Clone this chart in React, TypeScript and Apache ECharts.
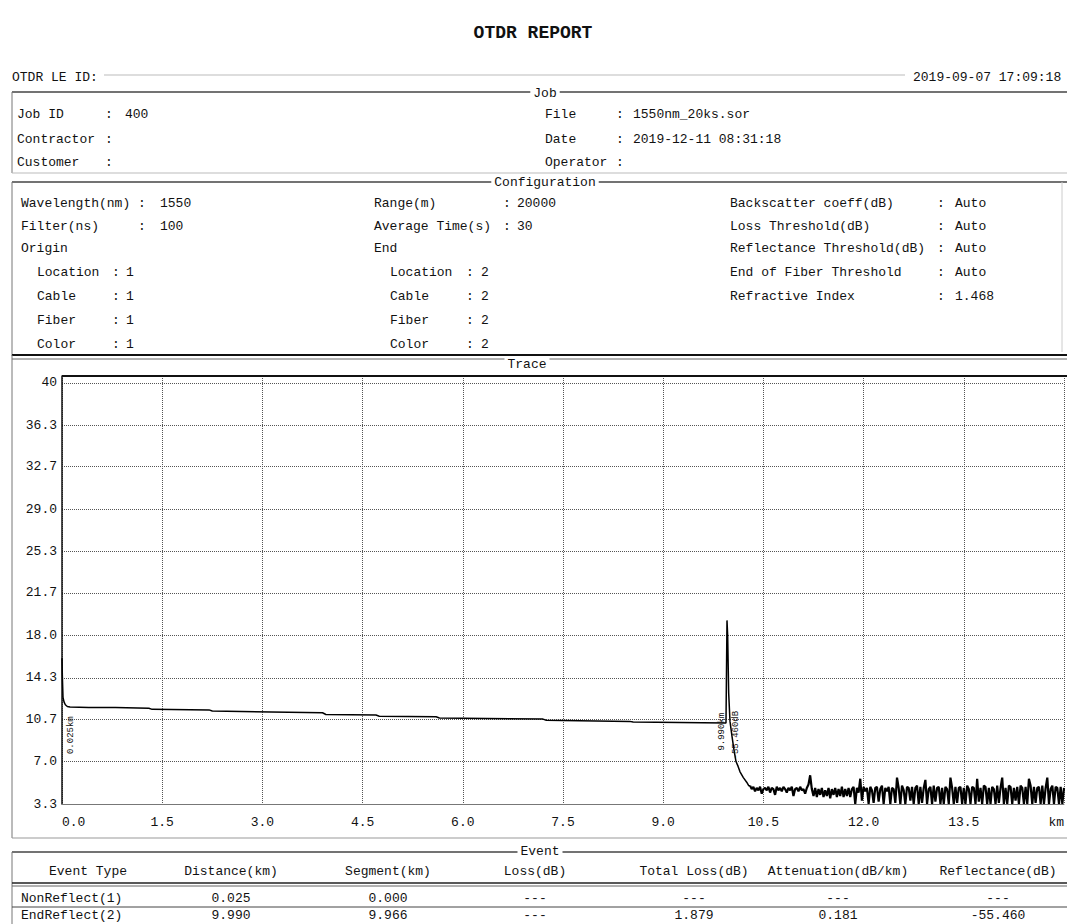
import React, { useEffect, useRef } from "react";
import * as echarts from "echarts";

// ---------- data ----------
const xTickInterval = 1.5;
const xMax = 15;
const yTickValues = [3.3, 7.0, 10.7, 14.3, 18.0, 21.7, 25.3, 29.0, 32.7, 36.3, 40];
const yMin = 3.3;
const yMax = 40.6;

// main trace (km, dB)
const traceKm = [0, 0.005, 0.015, 0.03, 0.05, 0.08, 0.12, 0.4, 0.8, 1.3, 1.35, 2.2, 2.25, 3.9, 3.95, 4.7, 4.75, 5.6, 5.65, 7.2, 7.25, 8.5, 8.55, 9.94, 9.955, 9.965, 9.98, 10.0, 10.03, 10.06, 10.09, 10.12, 10.15, 10.2, 10.25, 10.28];
const traceDb = [16.0, 14.5, 12.6, 12.2, 11.95, 11.8, 11.75, 11.7, 11.7, 11.65, 11.55, 11.5, 11.4, 11.25, 11.1, 11.05, 10.95, 10.9, 10.8, 10.7, 10.6, 10.5, 10.45, 10.35, 19.3, 18.0, 13.0, 10.5, 9.2, 8.0, 7.0, 6.6, 6.1, 5.6, 5.2, 4.9];

// noise floor after end of fiber, sampled every noiseStep km from noiseStart
const noiseStart = 10.3;
const noiseStep = 0.025;
const noiseDb = [
  4.9, 4.6, 4.8, 4.4, 4.7, 4.5, 4.8, 4.2, 4.6, 4.7,
  4.5, 4.8, 4.3, 4.7, 4.6, 4.1, 4.8, 4.5, 4.7, 4.4,
  4.8, 4.6, 4.3, 4.7, 4.5, 4.8, 4.0, 4.6, 4.7, 4.4,
  4.8, 4.5, 4.6, 4.2, 4.7, 5.0,
  5.8, 4.6, 4.0, 4.7, 3.9, 4.6, 4.1, 4.7, 3.9, 4.5,
  4.0, 4.7, 3.8, 4.6, 4.1, 4.7, 3.9, 4.6, 4.0, 4.8,
  3.9, 4.6, 4.0, 4.7, 3.9, 4.6,
  4.8, 3.3, 4.7, 4.3, 5.5, 3.6, 4.8, 4.4, 4.7, 3.3,
  4.8, 4.5, 3.4, 4.7, 4.8, 3.5, 4.6, 4.9, 3.3, 4.7,
  4.4, 4.8, 3.3, 4.7, 4.6, 3.4, 5.6, 4.7, 3.3, 4.9,
  4.5, 3.3, 4.8, 4.7, 3.6, 4.8, 3.3, 4.7, 4.9, 3.3,
  4.8, 3.4, 4.7, 5.4, 3.3, 4.6, 4.8, 3.3, 4.9, 3.5,
  4.7, 4.8, 3.3, 4.7, 3.3, 4.8, 4.6, 3.3, 5.6, 4.7,
  3.3, 4.8, 3.4, 4.7, 4.8, 3.3, 4.7, 3.3, 4.9, 4.6,
  3.3, 4.8, 4.7, 3.3, 5.5, 3.5, 4.7, 3.3, 4.9, 4.8,
  3.3, 4.7, 3.3, 4.8, 4.6, 3.3, 4.9, 3.4, 4.7, 5.6,
  3.3, 4.7, 3.3, 4.9, 4.8, 3.3, 4.7, 3.6, 4.8, 3.3,
  4.9, 4.7, 3.3, 4.8, 3.3, 5.5, 4.9, 3.3, 4.8, 3.4,
  4.7, 4.8, 3.3, 4.9, 3.3, 4.7, 5.6, 3.3, 4.6, 4.9,
  3.3, 4.8, 4.7, 3.3, 4.8, 3.3, 4.7,
];

// event markers on the trace (km, label, dB position of label centre)
const markerKm = [0.025, 9.99, 9.99];
const markerText = ["0.025km", "9.990km", "-55.460dB"];
const markerDb = [9.3, 9.6, 9.3];
const markerSide = [1, -1, 1];

// report header
const reportTitle = "OTDR REPORT";
const reportId = "OTDR LE ID:";
const reportStamp = "2019-09-07 17:09:18";
const jobLeft = [["Job ID", "400"], ["Contractor", ""], ["Customer", ""]];
const jobRight = [["File", "1550nm_20ks.sor"], ["Date", "2019-12-11 08:31:18"], ["Operator", ""]];

const cfgLeft = [["Wavelength(nm)", "1550"], ["Filter(ns)", "100"]];
const cfgMid = [["Range(m)", "20000"], ["Average Time(s)", "30"]];
const cfgOrigin = [["Location", "1"], ["Cable", "1"], ["Fiber", "1"], ["Color", "1"]];
const cfgEnd = [["Location", "2"], ["Cable", "2"], ["Fiber", "2"], ["Color", "2"]];
const cfgRight = [
  ["Backscatter coeff(dB)", "Auto"],
  ["Loss Threshold(dB)", "Auto"],
  ["Reflectance Threshold(dB)", "Auto"],
  ["End of Fiber Threshold", "Auto"],
  ["Refractive Index", "1.468"],
];

const eventHeaders = ["Event Type", "Distance(km)", "Segment(km)", "Loss(dB)", "Total Loss(dB)", "Attenuation(dB/km)", "Reflectance(dB)"];
const eventRows = [
  ["NonReflect(1)", "0.025", "0.000", "---", "---", "---", "---"],
  ["EndReflect(2)", "9.990", "9.966", "---", "1.879", "0.181", "-55.460"],
];

// ---------- layout ----------
const MONO = '"Liberation Mono", "DejaVu Sans Mono", monospace';
const F = `13px ${MONO}`;
const INK = "#111";

function txt(x: number, y: number, text: string, opts: any = {}) {
  return {
    type: "text",
    x,
    y,
    rotation: opts.rotation || 0,
    silent: true,
    style: {
      text,
      font: opts.font || F,
      fill: opts.fill || INK,
      align: opts.align || "left",
      verticalAlign: "middle",
      backgroundColor: opts.bg,
      padding: opts.bg ? [0, 3] : undefined,
    },
    z: 10,
  };
}
function hline(x1: number, x2: number, y: number, w = 1, c = "#555") {
  return { type: "line", shape: { x1, y1: y, x2, y2: y }, style: { stroke: c, lineWidth: w }, silent: true, z: 5 };
}
function vline(x: number, y1: number, y2: number, w = 1, c = "#555") {
  return { type: "line", shape: { x1: x, y1, x2: x, y2 }, style: { stroke: c, lineWidth: w }, silent: true, z: 5 };
}

function buildGraphics() {
  const g: any[] = [];
  g.push(txt(533, 33, reportTitle, { font: `bold 18px ${MONO}`, align: "center" }));
  g.push(txt(12, 77, reportId));
  g.push(hline(104, 905, 75, 1, "#bbb"));
  g.push(txt(913, 77, reportStamp));

  // Job box
  g.push(hline(12, 1067, 92, 1.5, "#444"));
  g.push(vline(12, 92, 173, 1, "#777"));
  g.push(hline(12, 1067, 173, 1, "#bbb"));
  g.push(txt(545, 93, "Job", { align: "center", bg: "#fff" }));
  const jobY = [114, 139, 162];
  jobLeft.forEach((r, i) => {
    g.push(txt(17, jobY[i], r[0]));
    g.push(txt(105, jobY[i], ":"));
    if (r[1]) g.push(txt(125, jobY[i], r[1]));
  });
  jobRight.forEach((r, i) => {
    g.push(txt(545, jobY[i], r[0]));
    g.push(txt(616, jobY[i], ":"));
    if (r[1]) g.push(txt(633, jobY[i], r[1]));
  });

  // Configuration box
  g.push(hline(12, 1067, 182, 1.5, "#444"));
  g.push(vline(12, 182, 356, 1, "#777"));
  g.push(vline(1062, 182, 352, 1, "#ccc"));
  g.push(txt(545, 182, "Configuration", { align: "center", bg: "#fff" }));
  const cfgY = [203, 226, 248, 272, 296, 320, 344];
  cfgLeft.forEach((r, i) => {
    g.push(txt(21, cfgY[i], r[0]));
    g.push(txt(138, cfgY[i], ":"));
    g.push(txt(160, cfgY[i], r[1]));
  });
  g.push(txt(21, cfgY[2], "Origin"));
  cfgOrigin.forEach((r, i) => {
    g.push(txt(37, cfgY[3 + i], r[0]));
    g.push(txt(112, cfgY[3 + i], ":"));
    g.push(txt(126, cfgY[3 + i], r[1]));
  });
  cfgMid.forEach((r, i) => {
    g.push(txt(374, cfgY[i], r[0]));
    g.push(txt(503, cfgY[i], ":"));
    g.push(txt(517, cfgY[i], r[1]));
  });
  g.push(txt(374, cfgY[2], "End"));
  cfgEnd.forEach((r, i) => {
    g.push(txt(390, cfgY[3 + i], r[0]));
    g.push(txt(466, cfgY[3 + i], ":"));
    g.push(txt(481, cfgY[3 + i], r[1]));
  });
  cfgRight.forEach((r, i) => {
    g.push(txt(730, cfgY[i], r[0]));
    g.push(txt(937, cfgY[i], ":"));
    g.push(txt(955, cfgY[i], r[1]));
  });

  // Trace box
  g.push(hline(12, 1067, 355, 2, "#111"));
  g.push(hline(12, 1067, 359, 1, "#666"));
  g.push(vline(12, 355, 838, 1, "#777"));
  g.push(hline(12, 1067, 838, 1, "#999"));
  g.push(txt(527, 364, "Trace", { align: "center", bg: "#fff" }));
  g.push(hline(62, 1067, 376, 2, "#111"));

  // Event box
  g.push(hline(12, 1067, 852, 1.5, "#444"));
  g.push(vline(12, 852, 924, 1, "#777"));
  g.push(txt(540, 851, "Event", { align: "center", bg: "#fff" }));
  const colX = [88, 231, 388, 535, 694, 838, 998];
  eventHeaders.forEach((h, i) => g.push(txt(colX[i], 871, h, { align: "center" })));
  g.push(hline(12, 1067, 883, 1.5, "#222"));
  g.push(hline(12, 1067, 886, 1, "#666"));
  const rowY = [898, 915];
  eventRows.forEach((row, r) => {
    row.forEach((c, i) => {
      if (i === 0) g.push(txt(21, rowY[r], c));
      else g.push(txt(colX[i], rowY[r], c, { align: "center" }));
    });
  });
  g.push(hline(12, 1067, 907, 1, "#444"));
  return g;
}

export default function App() {
  const ref = useRef<HTMLDivElement>(null);
  useEffect(() => {
    if (!ref.current) return;
    const chart = echarts.init(ref.current, undefined, { renderer: "svg" });
    const trace: number[][] = traceKm.map((k, i) => [k, traceDb[i]]);
    const noise: number[][] = noiseDb.map((v, i) => [+(noiseStart + i * noiseStep).toFixed(3), v]);

    chart.setOption({
      animation: false,
      backgroundColor: "#fff",
      grid: { left: 62, top: 376, right: 0, bottom: 120, containLabel: false },
      xAxis: {
        type: "value",
        min: 0,
        max: xMax,
        interval: xTickInterval,
        axisLine: { show: true, lineStyle: { color: "#777", width: 1 } },
        axisTick: { show: false },
        splitLine: { show: true, lineStyle: { color: "#555", type: "dotted", width: 1 } },
        axisLabel: {
          color: INK,
          fontFamily: MONO,
          fontSize: 13,
          margin: 12,
          showMinLabel: true,
          showMaxLabel: true,
          alignMinLabel: "left",
          alignMaxLabel: "right",
          formatter: (v: number) => (v >= xMax - 1e-6 ? "km" : v.toFixed(1)),
        },
      },
      yAxis: {
        type: "value",
        min: yMin,
        max: yMax,
        axisLine: { show: true, lineStyle: { color: "#111", width: 1.5 } },
        axisTick: { show: false, customValues: yTickValues },
        splitLine: { show: true, lineStyle: { color: "#555", type: "dotted", width: 1 } },
        axisLabel: {
          customValues: yTickValues,
          color: INK,
          fontFamily: MONO,
          fontSize: 13,
          margin: 5,
          formatter: (v: number) => (Math.abs(v - 40) < 1e-6 ? "40" : v.toFixed(1)),
        },
      },
      series: [
        {
          type: "line",
          data: trace.concat([noise[0]]),
          symbol: "none",
          lineStyle: { color: "#000", width: 1.5 },
          clip: true,
        },
        {
          type: "line",
          data: noise,
          symbol: "none",
          lineStyle: { color: "#000", width: 2.2 },
          clip: true,
        },
      ],
      graphic: buildGraphics(),
    });

    // event marker labels, positioned through the chart's own scales
    const markers = markerKm.map((k, i) => {
      const p = chart.convertToPixel({ gridIndex: 0 }, [k, markerDb[i]]) as number[];
      return txt(p[0] + markerSide[i] * 7, p[1], markerText[i], {
        font: `9px ${MONO}`,
        align: "center",
        rotation: Math.PI / 2,
      });
    });
    chart.setOption({ graphic: buildGraphics().concat(markers) });

    return () => chart.dispose();
  }, []);
  return <div ref={ref} style={{ position: "fixed", left: 0, top: 0, width: 1067, height: 924 }} />;
}
